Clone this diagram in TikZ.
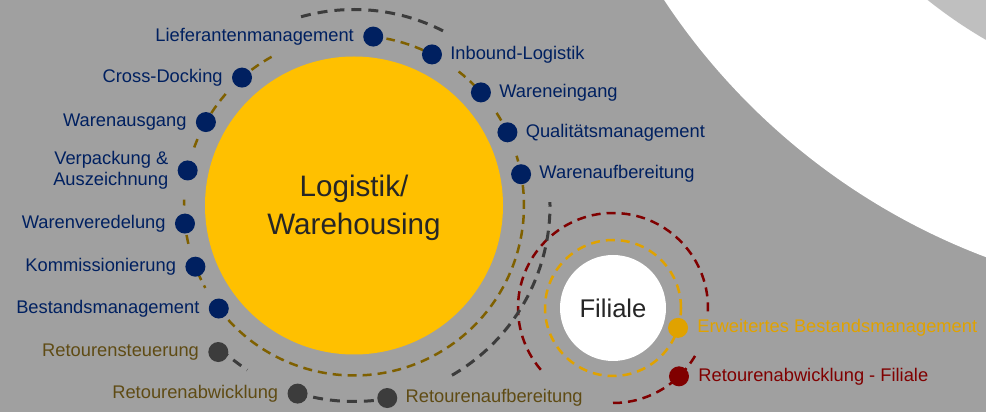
\documentclass[tikz,border=0pt]{standalone}
\usepackage{fontspec}
\setmainfont{Liberation Sans}
\usetikzlibrary{positioning}

\definecolor{bggray}{HTML}{A0A0A0}
\definecolor{paler}{HTML}{BFBFBF}
\definecolor{navy}{HTML}{002060}
\definecolor{sun}{HTML}{FFC000}
\definecolor{ringolive}{HTML}{7F6000}
\definecolor{textolive}{HTML}{5F4B14}
\definecolor{darkring}{HTML}{3C3C3C}
\definecolor{textdark}{HTML}{262626}
\definecolor{gold}{HTML}{E0A200}
\definecolor{wine}{HTML}{800000}

\tikzset{
    bubble/.style={circle, fill=#1, minimum size=20pt, inner sep=0pt},
    lbl/.style={inner sep=0pt, text=#1, font=\fontsize{18.3}{21}\selectfont},
    ring/.style={draw=#1, line width=2.5pt, dash pattern=on 9pt off 6pt},
}

\begin{document}
\begin{tikzpicture}[x=1pt, y=1pt]
        \path[use as bounding box] (0, 0) rectangle (986, 412);
        \clip (0, 0) rectangle (986, 412);
        \fill[bggray] (0, 0) rectangle (986, 412);

        % white band, top right
        \fill[white] (1222, 780.6) circle (668.6);
        \fill[paler] (1222, 780.6) circle (471.7);

        \coordinate (hub) at (354, 206.5);
        \coordinate (fil) at (613, 104);

        % inner ring
        \draw[ring=ringolive] ([shift={(217.3:170)}]hub) arc (217.3:370.6:170);
        \foreach \a/\b in {203/209, 190/195, 178/180, 157/162, 139/148, 119/128, 66/79, 44/52, 30/33, 15/17} {
            \draw[ring=ringolive] ([shift={(\a:170)}]hub) arc (\a:\b:170);
        }

        % rings round the Filiale
        \draw[ring=gold] (fil) circle (68);
        \draw[ring=wine] ([shift={(-2:95)}]fil) arc (-2:222:95);
        \draw[ring=wine] ([shift={(270:95)}]fil) arc (270:332:95);

        % outer ring
        \foreach \a/\b in {63/106, -60/1, 227/237, 253/280} {
            \draw[ring=darkring, line width=3pt, dash pattern=on 10pt off 7pt] ([shift={(\a:196)}]hub) arc (\a:\b:196);
        }

        \fill[sun] (hub) circle (149);
        \node[text=textdark, align=center, font=\fontsize{29.6}{38}\selectfont] (logistik) at ([yshift=-2pt]hub) {Logistik/\\Warehousing};
        \node[circle, fill=white, minimum size=106pt, inner sep=0pt, text=textdark, font=\fontsize{25.6}{30}\selectfont] (filiale) at (fil) {Filiale};

        % points on the rings
        \foreach \ang/\name in {83.5/lief, 62.7/inb, 41.7/wein, 25.5/qual, 10.6/wauf, 131.2/cross, 150.6/waus, 168.1/verp, 186.1/wver, 201.1/komm, 217.3/best} {
            \node[bubble=navy] (\name) at ([shift={(\ang:170)}]hub) {};
        }
        \node[bubble=darkring] (rsteu) at ([shift={(227.2:199.7)}]hub) {};
        \node[bubble=darkring] (rabw) at ([shift={(253.3:196.4)}]hub) {};
        \node[bubble=darkring] (rauf) at ([shift={(279.8:195.4)}]hub) {};
        \node[bubble=gold] (erw) at ([shift={(343:68)}]fil) {};
        \node[bubble=wine] (rfil) at ([shift={(314:95)}]fil) {};

        % labels
        \node[lbl=navy, left=9pt of lief] (t-lief) {Lieferantenmanagement};
        \node[lbl=navy, right=8pt of inb] (t-inb) {Inbound-Logistik};
        \node[lbl=navy, right=8pt of wein] (t-wein) {Wareneingang};
        \node[lbl=navy, right=8pt of qual] (t-qual) {Qualitätsmanagement};
        \node[lbl=navy, right=8pt of wauf] (t-wauf) {Warenaufbereitung};
        \node[lbl=navy, left=9pt of cross] (t-cross) {Cross-Docking};
        \node[lbl=navy, left=9pt of waus] (t-waus) {Warenausgang};
        \node[lbl=navy, left=9pt of verp, align=right] (t-verp) {Verpackung \&\\Auszeichnung};
        \node[lbl=navy, left=9pt of wver] (t-wver) {Warenveredelung};
        \node[lbl=navy, left=9pt of komm] (t-komm) {Kommissionierung};
        \node[lbl=navy, left=9pt of best] (t-best) {Bestandsmanagement};
        \node[lbl=textolive, left=9pt of rsteu] (t-rsteu) {Retourensteuerung};
        \node[lbl=textolive, left=9pt of rabw] (t-rabw) {Retourenabwicklung};
        \node[lbl=textolive, right=8pt of rauf] (t-rauf) {Retourenaufbereitung};
        \node[lbl=gold, right=9pt of erw] (t-erw) {Erweitertes Bestandsmanagement};
        \node[lbl=wine, right=9pt of rfil] (t-rfil) {Retourenabwicklung - Filiale};
\end{tikzpicture}
\end{document}
